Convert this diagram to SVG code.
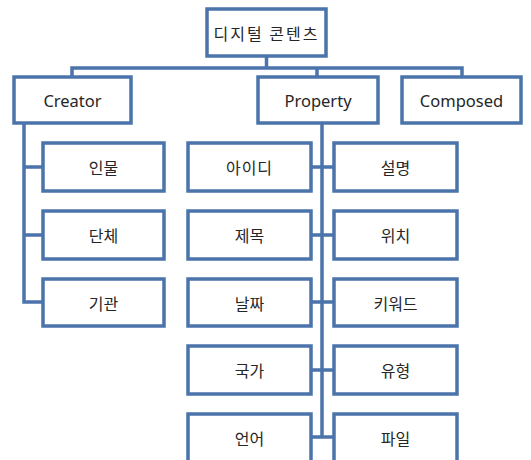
<svg xmlns="http://www.w3.org/2000/svg" width="531" height="460" viewBox="0 0 531 460">
<style>
.box{fill:#fff;stroke:#4a74aa;stroke-width:3.5}
.ln{fill:none;stroke:#4a74aa;stroke-width:3.5}
text{font-family:"Noto Sans CJK KR","Noto Sans",sans-serif;font-size:16px;fill:#262626;text-anchor:middle;dominant-baseline:central}
.en{font-family:"Noto Sans","Open Sans",sans-serif;font-size:16.5px}
</style>
<rect width="531" height="460" fill="#fff"/>
<g id="connectors">
<path class="ln" d="M266.5 56V68M72 77V68H462V77M317 68V77"/>
<path class="ln" d="M24 123V302H42M24 167H42M24 235H42"/>
<path class="ln" d="M322 123V437M311 167H334M311 235H334M311 302H334M311 370H334M311 437H334"/>
</g>
<g id="root"><rect class="box" x="207" y="9" width="119" height="47"/><text x="266.5" y="32.5" style="letter-spacing:2px">디지털 콘텐츠</text></g>
<g id="creator"><rect class="box" x="14" y="77" width="117" height="46"/><text class="en" x="72.5" y="100">Creator</text></g>
<g id="property"><rect class="box" x="258" y="77" width="120" height="46"/><text class="en" x="318" y="100">Property</text></g>
<g id="composed"><rect class="box" x="402" y="77" width="119" height="46"/><text class="en" x="461.5" y="100">Composed</text></g>
<g id="c1"><rect class="box" x="43" y="143" width="121" height="48"/><text x="103.5" y="167">인물</text></g>
<g id="c2"><rect class="box" x="43" y="211" width="121" height="48"/><text x="103.5" y="235">단체</text></g>
<g id="c3"><rect class="box" x="43" y="279" width="121" height="47"/><text x="103.5" y="302.5">기관</text></g>
<g id="p1"><rect class="box" x="188" y="143" width="123" height="48"/><text x="249.5" y="167" style="letter-spacing:1px">아이디</text></g>
<g id="p2"><rect class="box" x="188" y="211" width="123" height="48"/><text x="249.5" y="235">제목</text></g>
<g id="p3"><rect class="box" x="188" y="279" width="123" height="47"/><text x="249.5" y="302.5">날짜</text></g>
<g id="p4"><rect class="box" x="188" y="346" width="123" height="48"/><text x="249.5" y="370">국가</text></g>
<g id="p5"><rect class="box" x="188" y="414" width="123" height="48"/><text x="249.5" y="438">언어</text></g>
<g id="p6"><rect class="box" x="334" y="143" width="123" height="48"/><text x="395.5" y="167">설명</text></g>
<g id="p7"><rect class="box" x="334" y="211" width="123" height="48"/><text x="395.5" y="235">위치</text></g>
<g id="p8"><rect class="box" x="334" y="279" width="123" height="47"/><text x="395.5" y="302.5">키워드</text></g>
<g id="p9"><rect class="box" x="334" y="346" width="123" height="48"/><text x="395.5" y="370">유형</text></g>
<g id="p10"><rect class="box" x="334" y="414" width="123" height="48"/><text x="395.5" y="438">파일</text></g>
</svg>
